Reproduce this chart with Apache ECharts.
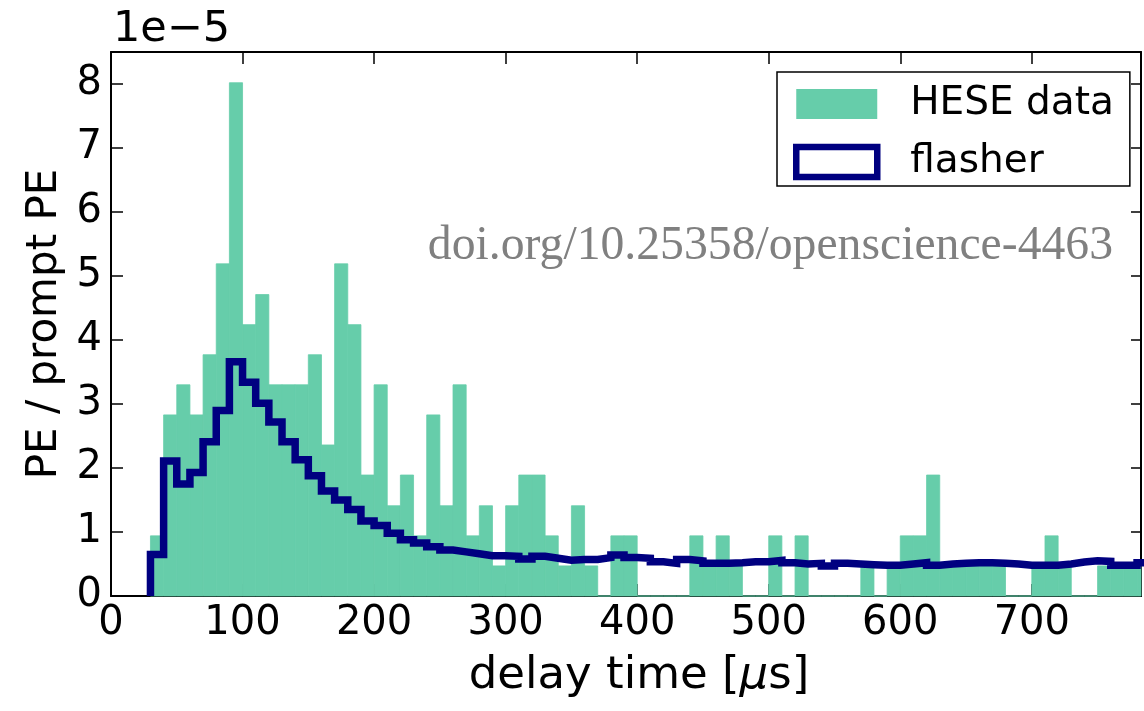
<!DOCTYPE html>
<html>
<head>
<meta charset="utf-8">
<script src="https://cdn.jsdelivr.net/npm/echarts@6/dist/echarts.min.js"></script>
<style>
  html, body { margin: 0; padding: 0; background: #fff; }
  #chart { width: 1144px; height: 711px; }
</style>
</head>
<body>
<div id="chart"></div>
<script>
// Histogram bin edges in microseconds (10 µs bins)
const binEdges = [30, 40, 50, 60, 70, 80, 90, 100, 110, 120, 130, 140, 150, 160, 170, 180, 190, 200,
  210, 220, 230, 240, 250, 260, 270, 280, 290, 300, 310, 320, 330, 340, 350, 360, 370, 380, 390, 400,
  410, 420, 430, 440, 450, 460, 470, 480, 490, 500, 510, 520, 530, 540, 550, 560, 570, 580, 590, 600,
  610, 620, 630, 640, 650, 660, 670, 680, 690, 700, 710, 720, 730, 740, 750, 760, 770, 780, 790];

// HESE data, PE / prompt PE per bin (units of 1e-5)
const heseData = [
  0.94, 2.83, 3.30, 2.83, 3.77, 5.19, 8.02, 4.24, 4.71, 3.30,
  3.30, 3.30, 3.77, 2.36, 5.19, 4.24, 1.89, 3.30, 1.41, 1.89,
  0.94, 2.83, 1.41, 3.30, 0.94, 1.41, 0.47, 1.41, 1.89, 1.89,
  0.94, 0.47, 1.41, 0.47, 0, 0.94, 0.94, 0, 0, 0,
  0, 0.94, 0.47, 0.94, 0.47, 0, 0, 0.94, 0, 0.94,
  0, 0, 0, 0, 0.47, 0, 0.47, 0.94, 0.94, 1.89,
  0.47, 0.47, 0.47, 0.47, 0.47, 0, 0, 0.47, 0.94, 0.47,
  0, 0, 0.47, 0.47, 0.47, 0.47
];

// Flasher template, PE / prompt PE per bin (units of 1e-5)
const flasherData = [
  0.65, 2.11, 1.75, 1.93, 2.41, 2.90, 3.66, 3.34, 3.01, 2.72,
  2.41, 2.13, 1.88, 1.64, 1.50, 1.35, 1.17, 1.10, 0.98, 0.88,
  0.83, 0.77, 0.72, 0.69, 0.66, 0.63, 0.63, 0.62, 0.58, 0.62,
  0.59, 0.56, 0.57, 0.57, 0.60, 0.64, 0.60, 0.59, 0.535, 0.51,
  0.57, 0.55, 0.51, 0.51, 0.52, 0.535, 0.535, 0.555, 0.52, 0.50,
  0.51, 0.47, 0.51, 0.50, 0.49, 0.48, 0.48, 0.50, 0.52, 0.48,
  0.50, 0.51, 0.52, 0.52, 0.51, 0.50, 0.48, 0.48, 0.48, 0.50,
  0.53, 0.55, 0.54, 0.48, 0.48, 0.52
];

// Axis ranges and ticks
const xMin = 0, xMax = 783, xStep = 100;
const yMin = 0, yMax = 8.5, yStep = 1;

const FONT = 'DejaVu Sans';
const GREEN = '#66cdaa';
const NAVY = '#000080';

const heseBars = heseData.map((v, i) => [binEdges[i], binEdges[i + 1], v]);
const flasherSteps = [[binEdges[0], 0]]
  .concat(flasherData.map((v, i) => [binEdges[i], v]))
  .concat([[binEdges[binEdges.length - 1], flasherData[flasherData.length - 1]]]);

const frameLine = { show: true, onZero: false, lineStyle: { color: '#000', width: 2 } };
const innerTick = { show: true, inside: true, length: 12, lineStyle: { color: '#000', width: 1.5 } };

const chart = echarts.init(document.getElementById('chart'), null, { renderer: 'canvas' });

chart.setOption({
  animation: false,
  backgroundColor: '#fff',
  grid: { left: 111, right: 1, top: 52, bottom: 115, containLabel: false },
  legend: {
    left: 777,
    top: 72,
    orient: 'vertical',
    selectedMode: false,
    backgroundColor: '#fff',
    borderColor: '#000',
    borderWidth: 1.5,
    padding: [12, 16, 4, 16],
    itemWidth: 81,
    itemHeight: 30,
    itemGap: 18,
    textStyle: { fontFamily: FONT, fontSize: 39, color: '#000', lineHeight: 40, padding: [0, 0, 0, 28] },
    data: [
      { name: 'HESE data', icon: 'rect', itemStyle: { color: GREEN, borderWidth: 0 } },
      { name: 'flasher', icon: 'rect', itemStyle: { color: '#fff', borderColor: NAVY, borderWidth: 6.5 } }
    ]
  },
  xAxis: [
    {
      type: 'value', min: xMin, max: xMax, interval: xStep, position: 'bottom',
      axisLine: frameLine, axisTick: innerTick, splitLine: { show: false },
      axisLabel: {
        fontFamily: FONT, fontSize: 40, color: '#000', margin: 8,
        formatter: v => (v % xStep === 0 ? String(v) : '')
      },
      name: '{n|delay time [}{mu|\u03bc}{n|s]}',
      nameLocation: 'middle',
      nameGap: 58,
      nameTextStyle: {
        padding: [0, 0, 0, 26],
        rich: {
          n: { fontFamily: FONT, fontSize: 45, color: '#000' },
          mu: { fontFamily: FONT, fontSize: 45, color: '#000', fontStyle: 'italic' }
        }
      }
    },
    {
      type: 'value', min: xMin, max: xMax, interval: xStep, position: 'top',
      axisLine: frameLine, axisTick: innerTick, splitLine: { show: false },
      axisLabel: { show: false }
    }
  ],
  yAxis: [
    {
      type: 'value', min: yMin, max: yMax, interval: yStep, position: 'left',
      axisLine: frameLine, axisTick: innerTick, splitLine: { show: false },
      axisLabel: {
        fontFamily: FONT, fontSize: 40, color: '#000', margin: 9,
        formatter: v => (Number.isInteger(v) ? String(v) : '')
      },
      name: 'PE / prompt PE',
      nameLocation: 'middle',
      nameGap: 43,
      nameTextStyle: { fontFamily: FONT, fontSize: 42, color: '#000' }
    },
    {
      type: 'value', min: yMin, max: yMax, interval: yStep, position: 'right',
      axisLine: frameLine, axisTick: { ...innerTick, length: 10 }, splitLine: { show: false },
      axisLabel: { show: false }
    }
  ],
  graphic: [
    {
      type: 'text', left: 113, top: 8, z: 10,
      style: { text: '1e\u22125', fontFamily: FONT, fontSize: 43, fill: '#000' }
    },
    {
      type: 'text', z: 10,
      x: 1113, y: 246,
      style: {
        text: 'doi.org/10.25358/openscience-4463',
        fontFamily: 'Liberation Serif', fontSize: 47.7, fill: '#808080',
        align: 'right', verticalAlign: 'middle'
      }
    }
  ],
  series: [
    {
      name: 'HESE data',
      type: 'custom',
      xAxisIndex: 0, yAxisIndex: 0,
      data: heseBars,
      encode: { x: [0, 1], y: 2 },
      itemStyle: { color: GREEN },
      renderItem(params, api) {
        const top = api.coord([api.value(0), api.value(2)]);
        const base = api.coord([api.value(1), 0]);
        const shape = echarts.graphic.clipRectByRect(
          { x: top[0], y: top[1], width: base[0] - top[0], height: base[1] - top[1] },
          { x: params.coordSys.x, y: params.coordSys.y, width: params.coordSys.width, height: params.coordSys.height }
        );
        return shape && {
          type: 'rect', shape,
          style: { fill: GREEN, stroke: GREEN, lineWidth: 0.8 }
        };
      },
      z: 1
    },
    {
      name: 'flasher',
      type: 'line',
      xAxisIndex: 0, yAxisIndex: 0,
      data: flasherSteps,
      step: 'end',
      symbol: 'none',
      clip: true,
      lineStyle: { color: NAVY, width: 7.5, join: 'miter', cap: 'butt' },
      itemStyle: { color: NAVY },
      z: 3
    }
  ]
});
</script>
</body>
</html>
